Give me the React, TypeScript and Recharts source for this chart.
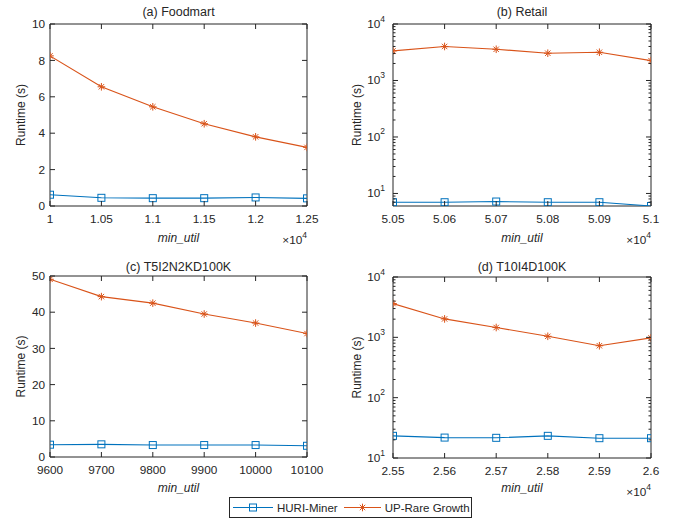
import React from 'react';
import {Line, LineChart, ReferenceArea, XAxis, YAxis} from 'recharts';

// x positions (min_util) and runtimes
const FOODMART_X = [10000, 10500, 11000, 11500, 12000, 12500];
const FOODMART_HURI = [0.62, 0.45, 0.43, 0.43, 0.47, 0.42];
const FOODMART_UP = [8.25, 6.55, 5.45, 4.52, 3.8, 3.22];

const RETAIL_X = [50500, 50600, 50700, 50800, 50900, 51000];
const RETAIL_HURI = [7.0, 7.0, 7.2, 7.0, 7.0, 6.0];
const RETAIL_UP = [3340, 4000, 3570, 3040, 3160, 2250];

const T5_X = [9600, 9700, 9800, 9900, 10000, 10100];
const T5_HURI = [3.4, 3.5, 3.3, 3.3, 3.3, 3.1];
const T5_UP = [49.1, 44.3, 42.5, 39.5, 37.0, 34.1];

const T10_X = [25500, 25600, 25700, 25800, 25900, 26000];
const T10_HURI = [23.3, 21.8, 21.6, 23.3, 21.3, 21.3];
const T10_UP = [3630, 2020, 1455, 1040, 725, 980];

const LINEAR_TICKS_A = [0, 2, 4, 6, 8, 10];
const LINEAR_TICKS_C = [0, 10, 20, 30, 40, 50];
const LOG_TICKS = [10, 100, 1000, 10000];
const LOG_MINOR = [7, 8, 9, 20, 30, 40, 50, 60, 70, 80, 90, 200, 300, 400, 500, 600, 700, 800, 900,
    2000, 3000, 4000, 5000, 6000, 7000, 8000, 9000];

const SERIES_NAMES = ['HURI-Miner', 'UP-Rare Growth'];

const BLUE = '#0072BD';
const ORANGE = '#D95319';
const INK = '#262626';
const FONT = '"Liberation Sans", Arial, Helvetica, sans-serif';
const TICK_FONT = 11.8;
const Y_W = 40;
const X_H = 25;

const SquareDot = (props: any) => {
    const {cx, cy} = props;
    if (cx == null || cy == null) return null;
    return <rect x={cx - 3.5} y={cy - 3.5} width={7} height={7} fill="none" stroke={BLUE} strokeWidth={1}/>;
};

const StarDot = (props: any) => {
    const {cx, cy} = props;
    if (cx == null || cy == null) return null;
    const r = 3.8;
    const d = 2.7;
    return (
        <g stroke={ORANGE} strokeWidth={1}>
            <line x1={cx - r} y1={cy} x2={cx + r} y2={cy}/>
            <line x1={cx} y1={cy - r} x2={cx} y2={cy + r}/>
            <line x1={cx - d} y1={cy - d} x2={cx + d} y2={cy + d}/>
            <line x1={cx - d} y1={cy + d} x2={cx + d} y2={cy - d}/>
        </g>
    );
};

const fmtE4 = (v: number) => String(parseFloat((v / 10000).toFixed(2)));
const fmtPlain = (v: number) => String(v);

type Plot = { l: number; t: number; r: number; b: number };

// inward ticks on bottom and top, label under the axis
const makeXTick = (plot: Plot, fmt: (v: number) => string) => (props: any) => {
    const {x, payload} = props;
    return (
        <g>
            <line x1={x} y1={plot.b} x2={x} y2={plot.b - 5} stroke={INK}/>
            <line x1={x} y1={plot.t} x2={x} y2={plot.t + 5} stroke={INK}/>
            <text x={x} y={plot.b + 17} textAnchor="middle" fill={INK} fontSize={TICK_FONT}
                  fontFamily={FONT}>{fmt(payload.value)}</text>
        </g>
    );
};

// inward ticks on left and right; log axes get 10^n labels and short minor ticks
const makeYTick = (plot: Plot, log: boolean) => (props: any) => {
    const {y, payload} = props;
    const v = payload.value;
    const major = !log || LOG_TICKS.includes(v);
    const len = major ? 5 : 2.5;
    let label = null;
    if (major && log) {
        label = (
            <text x={plot.l - 8} y={y + 4} textAnchor="end" fill={INK} fontSize={TICK_FONT} fontFamily={FONT}>
                10<tspan dy={-6.5} fontSize={8.5}>{Math.round(Math.log10(v))}</tspan>
            </text>
        );
    } else if (major) {
        label = (
            <text x={plot.l - 5} y={y + 4.2} textAnchor="end" fill={INK} fontSize={TICK_FONT}
                  fontFamily={FONT}>{v}</text>
        );
    }
    return (
        <g>
            <line x1={plot.l} y1={y} x2={plot.l + len} y2={y} stroke={INK}/>
            <line x1={plot.r} y1={y} x2={plot.r - len} y2={y} stroke={INK}/>
            {label}
        </g>
    );
};

type PanelProps = {
    left: number;
    top: number;
    width: number;
    height: number;
    plot: Plot;
    xs: number[];
    huri: number[];
    up: number[];
    xFormat: (v: number) => string;
    log: boolean;
    yDomain: [number, number];
    yTicks: number[];
};

const Panel = (props: PanelProps) => {
    const {plot, xs, log, yDomain, yTicks} = props;
    const data = xs.map((x, i) => ({x, huri: props.huri[i], up: props.up[i]}));
    const xDomain: [number, number] = [xs[0], xs[xs.length - 1]];
    const minors = log ? LOG_MINOR.filter(v => v > yDomain[0] && v < yDomain[1]) : [];
    const allYTicks = [...yTicks, ...minors].sort((a, b) => a - b);

    return (
        <div style={{position: 'absolute', left: props.left, top: props.top}}>
            <LineChart
                width={props.width}
                height={props.height}
                data={data}
                margin={{
                    top: plot.t,
                    left: plot.l - Y_W,
                    right: props.width - plot.r,
                    bottom: props.height - plot.b - X_H,
                }}
            >
                <XAxis dataKey="x" type="number" domain={xDomain} allowDataOverflow ticks={xs} interval={0}
                       height={X_H} axisLine={false} tickLine={false} tick={makeXTick(plot, props.xFormat)}/>
                <YAxis type="number" scale={log ? 'log' : 'linear'} domain={yDomain} allowDataOverflow
                       ticks={allYTicks} interval={0} width={Y_W} axisLine={false} tickLine={false}
                       tick={makeYTick(plot, log)}/>
                <ReferenceArea x1={xDomain[0]} x2={xDomain[1]} y1={yDomain[0]} y2={yDomain[1]}
                               fill="none" fillOpacity={0} stroke={INK} strokeWidth={1} ifOverflow="visible"/>
                <Line type="linear" dataKey="huri" name={SERIES_NAMES[0]}
                      stroke={BLUE} strokeWidth={1.1} dot={<SquareDot/>} activeDot={false}
                      isAnimationActive={false}/>
                <Line type="linear" dataKey="up" name={SERIES_NAMES[1]}
                      stroke={ORANGE} strokeWidth={1.1} dot={<StarDot/>} activeDot={false}
                      isAnimationActive={false}/>
            </LineChart>
        </div>
    );
};

const Exp4 = ({x, y}: { x: number; y: number }) => (
    <text x={x} y={y} textAnchor="end" fill={INK} fontSize={TICK_FONT}>
        ×10<tspan dy={-6.5} fontSize={8.5}>4</tspan>
    </text>
);

const Annotations = () => {
    const titleStyle = {fontSize: 12.5, fill: INK};
    const labelStyle = {fontSize: 12, fill: INK};
    return (
        <svg width={681} height={521} style={{position: 'absolute', left: 0, top: 0, pointerEvents: 'none'}}
             fontFamily={FONT}>
            <text x={178.5} y={16} textAnchor="middle" {...titleStyle}>(a) Foodmart</text>
            <text x={522} y={16} textAnchor="middle" {...titleStyle}>(b) Retail</text>
            <text x={178.5} y={271} textAnchor="middle" {...titleStyle}>(c) T5I2N2KD100K</text>
            <text x={522} y={271} textAnchor="middle" {...titleStyle}>(d) T10I4D100K</text>

            <text transform="translate(25,115) rotate(-90)" textAnchor="middle" {...labelStyle}>Runtime (s)</text>
            <text transform="translate(361,115) rotate(-90)" textAnchor="middle" {...labelStyle}>Runtime (s)</text>
            <text transform="translate(25,366.5) rotate(-90)" textAnchor="middle" {...labelStyle}>Runtime (s)</text>
            <text transform="translate(361,367.5) rotate(-90)" textAnchor="middle" {...labelStyle}>Runtime (s)</text>

            <text x={178.5} y={242} textAnchor="middle" fontStyle="italic" {...labelStyle}>min_util</text>
            <text x={522} y={242} textAnchor="middle" fontStyle="italic" {...labelStyle}>min_util</text>
            <text x={178.5} y={492} textAnchor="middle" fontStyle="italic" {...labelStyle}>min_util</text>
            <text x={522} y={492} textAnchor="middle" fontStyle="italic" {...labelStyle}>min_util</text>

            <Exp4 x={307} y={244}/>
            <Exp4 x={651} y={244}/>
            <Exp4 x={651} y={496}/>
        </svg>
    );
};

const LegendBox = () => (
    <div style={{
        position: 'absolute', left: 229, top: 497, width: 241, height: 19,
        border: `1px solid ${INK}`, background: '#fff', display: 'flex', alignItems: 'center',
        fontSize: 11.5, color: INK, fontFamily: FONT, whiteSpace: 'nowrap',
    }}>
        <svg width={44} height={19} style={{marginLeft: 3}}>
            <line x1={0} y1={9.5} x2={40} y2={9.5} stroke={BLUE} strokeWidth={1.1}/>
            <SquareDot cx={20} cy={9.5}/>
        </svg>
        <span>{SERIES_NAMES[0]}</span>
        <svg width={41} height={19} style={{marginLeft: 6}}>
            <line x1={0} y1={9.5} x2={37} y2={9.5} stroke={ORANGE} strokeWidth={1.1}/>
            <StarDot cx={18.5} cy={9.5}/>
        </svg>
        <span>{SERIES_NAMES[1]}</span>
    </div>
);

export default function App() {
    return (
        <div style={{
            position: 'absolute', left: 0, top: 0, width: 681, height: 521,
            background: '#fff', fontFamily: FONT, overflow: 'hidden',
        }}>
            <Panel left={0} top={0} width={340} height={250} plot={{l: 50, t: 24, r: 307, b: 206}}
                   xs={FOODMART_X} huri={FOODMART_HURI} up={FOODMART_UP} xFormat={fmtE4}
                   log={false} yDomain={[0, 10]} yTicks={LINEAR_TICKS_A}/>
            <Panel left={340} top={0} width={341} height={250} plot={{l: 53, t: 24, r: 311, b: 206}}
                   xs={RETAIL_X} huri={RETAIL_HURI} up={RETAIL_UP} xFormat={fmtE4}
                   log={true} yDomain={[6, 10000]} yTicks={LOG_TICKS}/>
            <Panel left={0} top={250} width={340} height={250} plot={{l: 50, t: 26, r: 307, b: 207}}
                   xs={T5_X} huri={T5_HURI} up={T5_UP} xFormat={fmtPlain}
                   log={false} yDomain={[0, 50]} yTicks={LINEAR_TICKS_C}/>
            <Panel left={340} top={250} width={341} height={250} plot={{l: 53, t: 27, r: 311, b: 208}}
                   xs={T10_X} huri={T10_HURI} up={T10_UP} xFormat={fmtE4}
                   log={true} yDomain={[10, 10000]} yTicks={LOG_TICKS}/>
            <Annotations/>
            <LegendBox/>
        </div>
    );
}
